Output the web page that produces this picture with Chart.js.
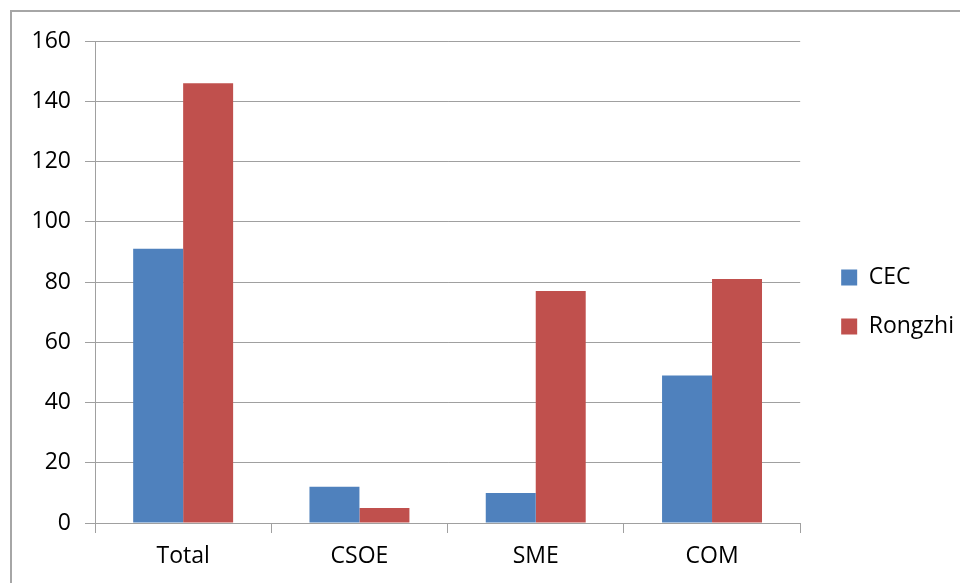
<!DOCTYPE html>
<html>
<head>
<meta charset="utf-8">
<script src="https://cdn.jsdelivr.net/npm/chart.js@4"></script>
<style>
html,body{margin:0;padding:0;background:#fff;overflow:hidden;}
#frame{position:absolute;left:10px;top:10px;width:1200px;height:1200px;border-left:2px solid #a6a6a6;border-top:2px solid #a6a6a6;}
#wrap{position:absolute;left:0;top:0;width:960px;height:583px;}
</style>
</head>
<body>
<div id="frame"></div>
<div id="wrap"><canvas id="c" width="960" height="583"></canvas></div>
<script>
const categories = ["Total", "CSOE", "SME", "COM"];
const cecValues = [91, 12, 10, 49];
const rongzhiValues = [146, 5, 77, 81];
const yTicks = [0, 20, 40, 60, 80, 100, 120, 140, 160];

const FONT = "'Open Sans', 'Liberation Sans', sans-serif";
Chart.defaults.font.family = FONT;
Chart.defaults.color = '#000';

const legendShift = {
  id: 'legendShift',
  afterLayout(chart) {
    const lg = chart.legend;
    if (!lg) return;
    lg.left += 15; lg.right += 15;
    lg.top -= 10; lg.bottom -= 10;
  }
};

new Chart(document.getElementById('c'), {
  type: 'bar',
  data: {
    labels: categories,
    datasets: [
      { label: 'CEC', data: cecValues, backgroundColor: '#4F81BD', barPercentage: 1, categoryPercentage: 0.567 },
      { label: 'Rongzhi', data: rongzhiValues, backgroundColor: '#C0504D', barPercentage: 1, categoryPercentage: 0.567 }
    ]
  },
  plugins: [legendShift],
  options: {
    responsive: false,
    animation: false,
    layout: { padding: { left: 0, top: 41, right: 11, bottom: 0 } },
    plugins: {
      tooltip: { enabled: false },
      legend: {
        position: 'right',
        labels: { boxWidth: 16, boxHeight: 16, padding: 26, font: { size: 23, family: FONT }, color: '#000' }
      }
    },
    scales: {
      x: {
        afterFit: s => { s.height = 60; },
        grid: { drawOnChartArea: false, drawTicks: true, tickLength: 10, offset: true, color: '#a0a0a0' },
        border: { display: true, color: '#a0a0a0', width: 1 },
        ticks: { padding: 10, font: { size: 23, family: FONT }, color: '#000' }
      },
      y: {
        min: 0, max: 160,
        afterFit: s => { s.width = 95; },
        afterBuildTicks: s => { s.ticks = yTicks.map(v => ({ value: v })); },
        grid: { drawTicks: true, tickLength: 10, color: '#a0a0a0' },
        border: { display: true, color: '#a0a0a0', width: 1 },
        ticks: { padding: 14, font: { size: 23, family: FONT }, color: '#000' }
      }
    }
  }
});
</script>
</body>
</html>
